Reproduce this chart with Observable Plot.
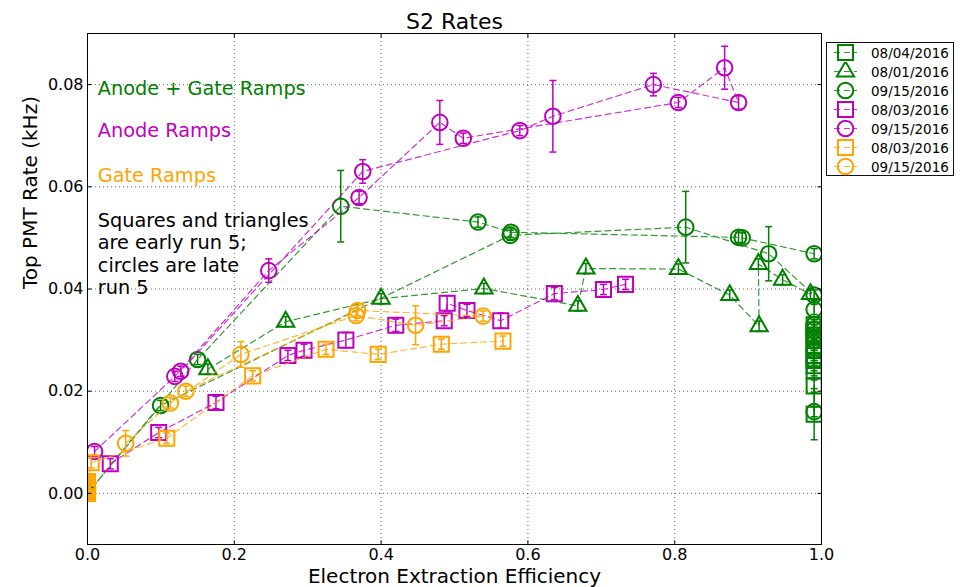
<!DOCTYPE html>
<html>
<head>
<meta charset="utf-8">
<script src="https://cdn.jsdelivr.net/npm/d3@7"></script>
<script src="https://cdn.jsdelivr.net/npm/@observablehq/plot@0.6"></script>
<style>
  html, body { margin: 0; padding: 0; background: #fff; }
  #chart { position: relative; width: 966px; height: 587px; font-family: "DejaVu Sans", sans-serif; }
  #chart svg { display: block; }
  .legend { position: absolute; left: 826px; top: 42px; width: 128px; height: 134px;
            border: 1px solid #111; background: #fff; box-sizing: border-box; padding-top: 0px; }
  .legend .row { height: 19px; display: flex; align-items: center; }
  .legend .row svg { flex: none; }
  .legend .row span { font-size: 13.5px; color: #000; margin-left: 4px; white-space: nowrap; }
</style>
</head>
<body>
<div id="chart"></div>
<script>
// Axis ticks
const xTicks = [0, 0.2, 0.4, 0.6, 0.8, 1.0];
const yTicks = [0, 0.02, 0.04, 0.06, 0.08];

// Each row: [extraction efficiency, top PMT rate (kHz), error]
const anodeGate0804 = [
  [0.99, 0.033, 0.001], [0.99, 0.032, 0.001], [0.99, 0.031, 0.001], [0.99, 0.030, 0.001],
  [0.99, 0.029, 0.001], [0.99, 0.028, 0.001], [0.99, 0.027, 0.001], [0.99, 0.026, 0.001],
  [0.99, 0.025, 0.001], [0.99, 0.024, 0.001], [0.99, 0.021, 0.0012], [0.99, 0.0155, 0.005]
];
const anodeGate0801 = [
  [0.164, 0.0243, 0.001], [0.27, 0.0336, 0.001], [0.40, 0.0381, 0.001], [0.54, 0.0401, 0.001],
  [0.668, 0.0367, 0.001], [0.679, 0.044, 0.001], [0.805, 0.0439, 0.001], [0.875, 0.0388, 0.001],
  [0.915, 0.0327, 0.001], [0.914, 0.0449, 0.001], [0.947, 0.0418, 0.001], [0.985, 0.039, 0.001]
];
const anodeGate0915 = [
  [0.99, 0.016, 0.001], [0.99, 0.026, 0.001], [0.99, 0.028, 0.001], [0.99, 0.030, 0.001],
  [0.99, 0.031, 0.001], [0.99, 0.032, 0.001], [0.99, 0.033, 0.001], [0.99, 0.036, 0.001],
  [0.99, 0.0388, 0.001], [0.928, 0.0469, 0.0053], [0.815, 0.0521, 0.007], [0.576, 0.0505, 0.001],
  [0.0996, 0.0172, 0.001], [0.0, 0.0, 0.001], [0.15, 0.0262, 0.001], [0.345, 0.0562, 0.007],
  [0.532, 0.0531, 0.001], [0.577, 0.0511, 0.001], [0.887, 0.0501, 0.001], [0.892, 0.0500, 0.001],
  [0.99, 0.0469, 0.001]
];
const anode0803 = [
  [0.031, 0.0058, 0.001], [0.097, 0.0119, 0.001], [0.175, 0.0178, 0.0012], [0.273, 0.027, 0.001],
  [0.295, 0.028, 0.0012], [0.352, 0.030, 0.0015], [0.420, 0.0329, 0.0012], [0.486, 0.0338, 0.001],
  [0.490, 0.0372, 0.0015], [0.517, 0.0358, 0.0012], [0.563, 0.0338, 0.0015], [0.636, 0.0391, 0.0012],
  [0.703, 0.0399, 0.001], [0.733, 0.0409, 0.001]
];
const anode0915 = [
  [0.0096, 0.0082, 0.001], [0.119, 0.0229, 0.001], [0.247, 0.0436, 0.0023], [0.370, 0.0579, 0.0012],
  [0.480, 0.0726, 0.0043], [0.512, 0.0695, 0.001], [0.805, 0.0765, 0.001], [0.868, 0.0833, 0.0042],
  [0.887, 0.0765, 0.0013], [0.771, 0.0800, 0.0022], [0.634, 0.0738, 0.007], [0.589, 0.0710, 0.001],
  [0.375, 0.0630, 0.0023], [0.127, 0.0239, 0.001]
];
const gate0803 = [
  [0.0, 0.0, 0.0005], [0.0, 0.0004, 0.0005], [0.0, 0.0007, 0.0005], [0.0, 0.001, 0.0005],
  [0.0, 0.0013, 0.0005], [0.0, 0.0017, 0.0005], [0.0, 0.002, 0.0005], [0.0, 0.0023, 0.0005],
  [0.005, 0.0060, 0.001], [0.108, 0.0108, 0.001], [0.225, 0.0230, 0.001], [0.325, 0.0282, 0.001],
  [0.396, 0.0272, 0.001], [0.482, 0.0292, 0.001], [0.566, 0.0298, 0.001]
];
const gate0915 = [
  [0.052, 0.0098, 0.0025], [0.113, 0.0177, 0.001], [0.209, 0.0272, 0.0025], [0.366, 0.0348, 0.001],
  [0.447, 0.0329, 0.0038], [0.539, 0.0347, 0.001], [0.368, 0.0358, 0.001], [0.134, 0.0200, 0.001]
];

// Legend labels and notes
const seriesLabels = ["08/04/2016", "08/01/2016", "09/15/2016", "08/03/2016", "09/15/2016", "08/03/2016", "09/15/2016"];
const noteText = ["Anode + Gate Ramps", "Anode Ramps", "Gate Ramps",
  "Squares and triangles\nare early run 5;\ncircles are late\nrun 5"];
const noteY = [0.078, 0.0697, 0.061, 0.039];

const GREEN = "#008000", MAGENTA = "#bf00bf", ORANGE = "#ffa500";
const SHAPES = {
  square: {plot: "square", d3: d3.symbolSquare, r: 8.5},
  triangle: {plot: "triangle", d3: d3.symbolTriangle, r: 6.4},
  circle: {plot: "circle", d3: d3.symbolCircle, r: 7.8}
};

const series = [
  {rows: anodeGate0804, color: GREEN, shape: SHAPES.square},
  {rows: anodeGate0801, color: GREEN, shape: SHAPES.triangle},
  {rows: anodeGate0915, color: GREEN, shape: SHAPES.circle},
  {rows: anode0803, color: MAGENTA, shape: SHAPES.square},
  {rows: anode0915, color: MAGENTA, shape: SHAPES.circle},
  {rows: gate0803, color: ORANGE, shape: SHAPES.square},
  {rows: gate0915, color: ORANGE, shape: SHAPES.circle}
].map((s, i) => ({...s, label: seriesLabels[i]}));

// Short line symbols for error-bar caps and inward tick marks
const capSymbol = {draw(ctx, size) { const w = Math.sqrt(size / Math.PI); ctx.moveTo(-w, 0); ctx.lineTo(w, 0); }};
const tickSymbol = (dx, dy) => ({draw(ctx, size) { const l = Math.sqrt(size / Math.PI); ctx.moveTo(0, 0); ctx.lineTo(dx * l, dy * l); }});

const marks = [
  Plot.ruleX(xTicks.slice(1, -1), {x: d => d, stroke: "#000", strokeOpacity: 0.6, strokeDasharray: "1,3"}),
  Plot.ruleY(yTicks, {y: d => d, stroke: "#000", strokeOpacity: 0.6, strokeDasharray: "1,3"})
];

for (const s of series) {
  const pts = s.rows.map(([x, y, e]) => ({x, y, e}));
  marks.push(
    Plot.line(pts, {x: "x", y: "y", stroke: s.color, strokeWidth: 1.2, strokeDasharray: "6,4", strokeOpacity: 0.8, clip: true}),
    Plot.ruleX(pts, {x: "x", y1: d => d.y - d.e, y2: d => d.y + d.e, stroke: s.color, strokeWidth: 1.5, clip: true}),
    Plot.dot(pts, {x: "x", y: d => d.y - d.e, symbol: capSymbol, r: 3.5, stroke: s.color, strokeWidth: 1.5, clip: true}),
    Plot.dot(pts, {x: "x", y: d => d.y + d.e, symbol: capSymbol, r: 3.5, stroke: s.color, strokeWidth: 1.5, clip: true}),
    Plot.dot(pts, {x: "x", y: "y", symbol: s.shape.plot, r: s.shape.r, fill: "none", stroke: s.color, strokeWidth: 2, clip: true})
  );
}

const noteColors = [GREEN, MAGENTA, ORANGE, "#000"];
marks.push(
  Plot.text(noteText.map((t, i) => ({t, y: noteY[i], c: noteColors[i]})), {
    x: () => 0.014, y: "y", text: "t", fill: "c", textAnchor: "start", lineAnchor: "bottom",
    fontSize: 19.3, lineHeight: 1.16
  }),
  Plot.frame({stroke: "#000", strokeWidth: 1}),
  // inward ticks on all four sides
  Plot.dot(xTicks, {x: d => d, frameAnchor: "bottom", symbol: tickSymbol(0, -1), r: 4, stroke: "#000", strokeWidth: 1}),
  Plot.dot(xTicks, {x: d => d, frameAnchor: "top", symbol: tickSymbol(0, 1), r: 4, stroke: "#000", strokeWidth: 1}),
  Plot.dot(yTicks, {y: d => d, frameAnchor: "left", symbol: tickSymbol(1, 0), r: 4, stroke: "#000", strokeWidth: 1}),
  Plot.dot(yTicks, {y: d => d, frameAnchor: "right", symbol: tickSymbol(-1, 0), r: 4, stroke: "#000", strokeWidth: 1}),
  // tick labels
  Plot.text(xTicks, {x: d => d, text: d => d.toFixed(1), frameAnchor: "bottom", dy: 4, lineAnchor: "top", fontSize: 16, fill: "#000"}),
  Plot.text(yTicks, {y: d => d, text: d => d.toFixed(2), frameAnchor: "left", dx: -4, textAnchor: "end", lineAnchor: "middle", fontSize: 16, fill: "#000"}),
  // title and axis labels
  Plot.text(["S2 Rates"], {text: d => d, frameAnchor: "top", dy: -5, lineAnchor: "bottom", fontSize: 22, fill: "#000"}),
  Plot.text(["Electron Extraction Efficiency"], {text: d => d, frameAnchor: "bottom", dy: 38, lineAnchor: "bottom", fontSize: 20, fill: "#000"}),
  Plot.text(["Top PMT Rate (kHz)"], {text: d => d, frameAnchor: "left", dx: -57, rotate: -90, lineAnchor: "middle", fontSize: 20, fill: "#000"})
);

const chart = Plot.plot({
  width: 966,
  height: 587,
  marginLeft: 87,
  marginRight: 145,
  marginTop: 33,
  marginBottom: 43,
  style: {fontFamily: "DejaVu Sans, sans-serif", fontSize: "16px", color: "#000", background: "#fff", overflow: "visible"},
  x: {domain: [0, 1], axis: null},
  y: {domain: [-0.01, 0.09], axis: null},
  marks
});

const host = document.getElementById("chart");
host.appendChild(chart);

// Legend: dashed line sample with the series marker, then the run date
const legend = d3.select(host).append("div").attr("class", "legend");
for (const s of series) {
  const row = legend.append("div").attr("class", "row");
  const svg = row.append("svg").attr("width", 40).attr("height", 19);
  svg.append("line").attr("x1", 7).attr("x2", 30).attr("y1", 9.5).attr("y2", 9.5)
    .attr("stroke", s.color).attr("stroke-width", 1.2).attr("stroke-dasharray", "6,4").attr("stroke-opacity", 0.8);
  svg.append("path").attr("transform", "translate(18.5,9.5)")
    .attr("d", d3.symbol(s.shape.d3, Math.PI * s.shape.r * s.shape.r)())
    .attr("fill", "none").attr("stroke", s.color).attr("stroke-width", 2);
  row.append("span").text(s.label);
}
</script>
</body>
</html>
